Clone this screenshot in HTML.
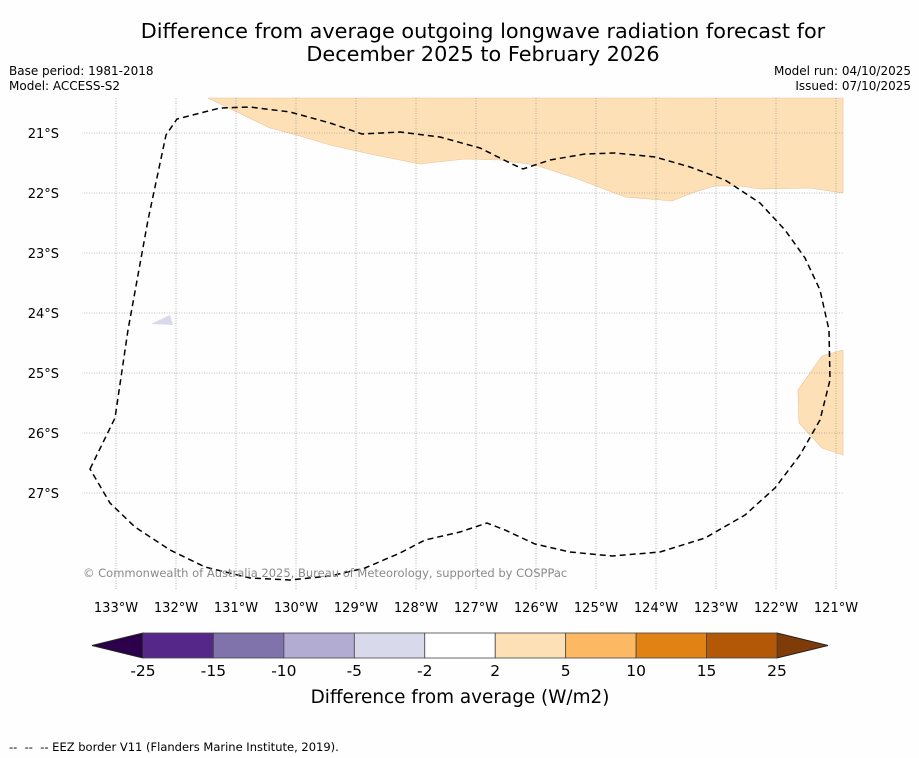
<!DOCTYPE html>
<html><head><meta charset="utf-8"><style>
body{margin:0;background:#fff;font-family:"DejaVu Sans","Liberation Sans",sans-serif;}
svg{display:block}
</style></head><body>
<svg id="chart" width="919" height="758" viewBox="0 0 919 758">
<rect width="919" height="758" fill="#fefefe"/>
<text x="483" y="38" text-anchor="middle" font-size="20.8">Difference from average outgoing longwave radiation forecast for</text>
<text x="483" y="61" text-anchor="middle" font-size="20.8">December 2025 to February 2026</text>
<text x="9" y="75" font-size="12">Base period: 1981-2018</text>
<text x="9" y="90" font-size="12">Model: ACCESS-S2</text>
<text x="911" y="75" font-size="12" text-anchor="end">Model run: 04/10/2025</text>
<text x="911" y="90" font-size="12" text-anchor="end">Issued: 07/10/2025</text>
<g id="map">
<path fill="#fde0b6" stroke="#e8c49a" stroke-width="0.6" d="M208,98 L843,98 L843,193 L810,188 L760,189 L740,186 L715,186 L695,192 L672,201 L625,197 L575,178 L535,165 L500,160 L465,159 L420,164 L370,154 L330,145 L300,136 L270,128 Z"/>
<path fill="#fde0b6" stroke="#e8c49a" stroke-width="0.6" d="M843,350 L822,356 L798,390 L799,423 L822,448 L843,455 Z"/>
<path fill="#d8daeb" d="M151,324 L170,315 L173,325 Z"/>
<g id="grid"></g>
<path fill="none" stroke="#000" stroke-width="1.5" stroke-dasharray="6,4" d="M90,469 L115,418 L128,330 L148,220 L166,135 L177,119 L220,108 L250,107 L290,112 L330,123 L362,134 L400,132 L440,137 L480,148 L510,163 L523,169 L550,160 L585,154 L615,153 L655,157 L690,167 L725,180 L760,203 L785,230 L805,258 L820,290 L829,330 L830,380 L820,420 L800,455 L775,488 L745,515 L705,538 L660,552 L612,556 L570,552 L535,544 L505,530 L487,523 L460,532 L425,540 L400,553 L365,568 L330,576 L290,580 L250,578 L205,567 L170,550 L135,527 L110,503 Z"/>
<text x="83" y="577" font-size="11.5" fill="#8a8a8a">© Commonwealth of Australia 2025, Bureau of Meteorology, supported by COSPPac</text>
</g>
<g id="axes"></g>
<g id="colorbar"></g>
<text x="460" y="703" text-anchor="middle" font-size="18.4">Difference from average (W/m2)</text>
<text x="9" y="751" font-size="11.5" xml:space="preserve" style="white-space:pre">--  --  -- EEZ border V11 (Flanders Marine Institute, 2019).</text>
</svg>
<script>
const lonTicks=[133,132,131,130,129,128,127,126,125,124,123,122,121];
const latTicks=[21,22,23,24,25,26,27];
const cbBounds=[-25,-15,-10,-5,-2,2,5,10,15,25];
const cbColors=["#542788","#8073ac","#b2abd2","#d8daeb","#ffffff","#fee0b6","#fdb863","#e08214","#b35806"];
const cbLow="#2d004b", cbHigh="#7f3b08";
const NS="http://www.w3.org/2000/svg";
function mk(t,a,p){const e=document.createElementNS(NS,t);for(const k in a)e.setAttribute(k,a[k]);p.appendChild(e);return e;}
const xLon=l=>116+(133-l)*60, yLat=l=>133+(l-21)*60;
const grid=document.getElementById('grid'), axes=document.getElementById('axes');
lonTicks.forEach(l=>{const x=xLon(l);
 const g=mk('line',{x1:x,x2:x,y1:98,y2:590,stroke:'#888','stroke-width':0.6,'stroke-dasharray':'1,1.5'},grid);
 
 
 const t=mk('text',{x:x,y:612,'text-anchor':'middle','font-size':13},axes);t.textContent=l+'°W';
 
 });
latTicks.forEach(l=>{const y=yLat(l);
 const g=mk('line',{x1:84,x2:843,y1:y,y2:y,stroke:'#888','stroke-width':0.6,'stroke-dasharray':'1,1.5'},grid);
 
 
 const t=mk('text',{x:59,y:y+5,'text-anchor':'end','font-size':13},axes);t.textContent=l+'°S';
 
 });
const cb=document.getElementById('colorbar');
const x0=143,x1=777,y0=633,h=25,n=cbColors.length,w=(x1-x0)/n;
const lo=mk('polygon',{points:`${x0},${y0} ${x0},${y0+h} 92,${y0+h/2}`,fill:cbLow,stroke:'#222'},cb);


const hi=mk('polygon',{points:`${x1},${y0} ${x1},${y0+h} 828,${y0+h/2}`,fill:cbHigh,stroke:'#222'},cb);


cbColors.forEach((c,i)=>{const r=mk('rect',{x:x0+i*w,y:y0,width:w,height:h,fill:c,stroke:'#444','stroke-width':0.8},cb);
 
 });
cbBounds.forEach((b,i)=>{const t=mk('text',{x:x0+i*w,y:676,'text-anchor':'middle','font-size':15.5},cb);t.textContent=b;
 
 });
</script>
</body></html>
